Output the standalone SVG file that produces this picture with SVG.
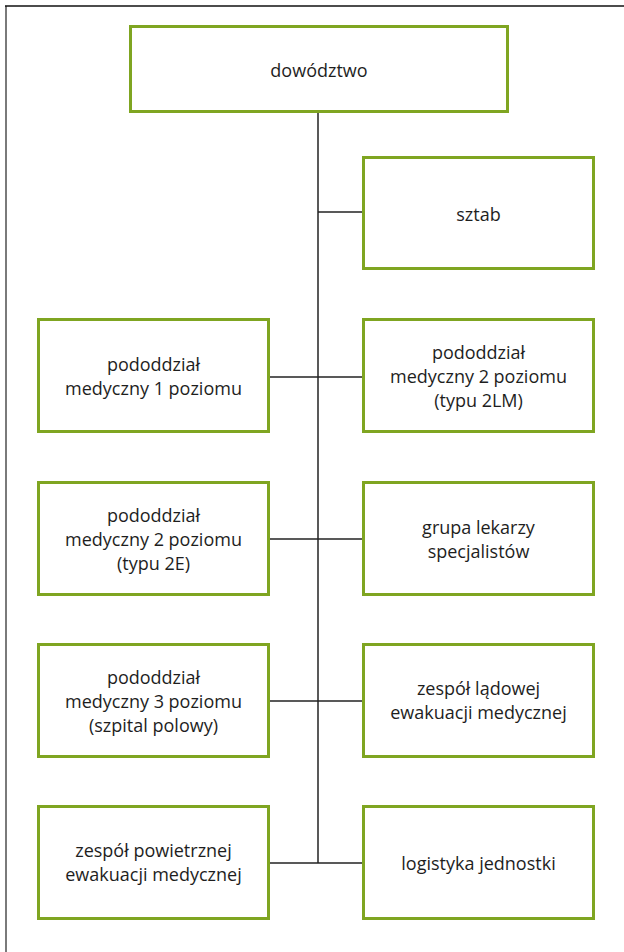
<svg xmlns="http://www.w3.org/2000/svg" width="624" height="952" viewBox="0 0 624 952">
<style>
.box{fill:#fff;stroke:#7fa521;stroke-width:3}
.con{stroke:#222;stroke-width:1.5;fill:none}
text{font-family:"Open Sans","Noto Sans","Liberation Sans",sans-serif;font-size:18px;fill:#1e1e1e;text-anchor:middle}
</style>
<rect x="0" y="0" width="624" height="952" fill="#fff"/>
<g id="frame">
<line x1="6" y1="6" x2="6" y2="952" stroke="#7a7a7a" stroke-width="2"/>
<line x1="5" y1="6" x2="624" y2="6" stroke="#111" stroke-width="1.5"/>
</g>
<g id="connectors" class="con">
<line x1="318" y1="113" x2="318" y2="863"/>
<line x1="318" y1="212" x2="363" y2="212"/>
<line x1="269" y1="377" x2="363" y2="377"/>
<line x1="269" y1="539" x2="363" y2="539"/>
<line x1="269" y1="701" x2="363" y2="701"/>
<line x1="269" y1="863" x2="363" y2="863"/>
</g>
<g id="dowodztwo"><rect class="box" x="130.5" y="26.5" width="377" height="85"/><text x="319" y="77">dowództwo</text></g>
<g id="sztab"><rect class="box" x="363.5" y="157.5" width="230" height="111"/><text x="478.5" y="221">sztab</text></g>
<g id="pm1"><rect class="box" x="38.5" y="319.5" width="230" height="112"/><text x="153.5" y="371">pododdział</text><text x="153.5" y="395">medyczny 1 poziomu</text></g>
<g id="pm2lm"><rect class="box" x="363.5" y="319.5" width="230" height="112"/><text x="478.5" y="359">pododdział</text><text x="478.5" y="383">medyczny 2 poziomu</text><text x="478.5" y="407">(typu 2LM)</text></g>
<g id="pm2e"><rect class="box" x="38.5" y="482.5" width="230" height="112"/><text x="153.5" y="522">pododdział</text><text x="153.5" y="546">medyczny 2 poziomu</text><text x="153.5" y="570">(typu 2E)</text></g>
<g id="grupa"><rect class="box" x="363.5" y="482.5" width="230" height="112"/><text x="478.5" y="534">grupa lekarzy</text><text x="478.5" y="558">specjalistów</text></g>
<g id="pm3"><rect class="box" x="38.5" y="644.5" width="230" height="112"/><text x="153.5" y="684">pododdział</text><text x="153.5" y="708">medyczny 3 poziomu</text><text x="153.5" y="732">(szpital polowy)</text></g>
<g id="zlem"><rect class="box" x="363.5" y="644.5" width="230" height="112"/><text x="478.5" y="695">zespół lądowej</text><text x="478.5" y="719">ewakuacji medycznej</text></g>
<g id="zpem"><rect class="box" x="38.5" y="806.5" width="230" height="112"/><text x="153.5" y="857">zespół powietrznej</text><text x="153.5" y="881">ewakuacji medycznej</text></g>
<g id="logistyka"><rect class="box" x="363.5" y="806.5" width="230" height="112"/><text x="478.5" y="870">logistyka jednostki</text></g>
</svg>
